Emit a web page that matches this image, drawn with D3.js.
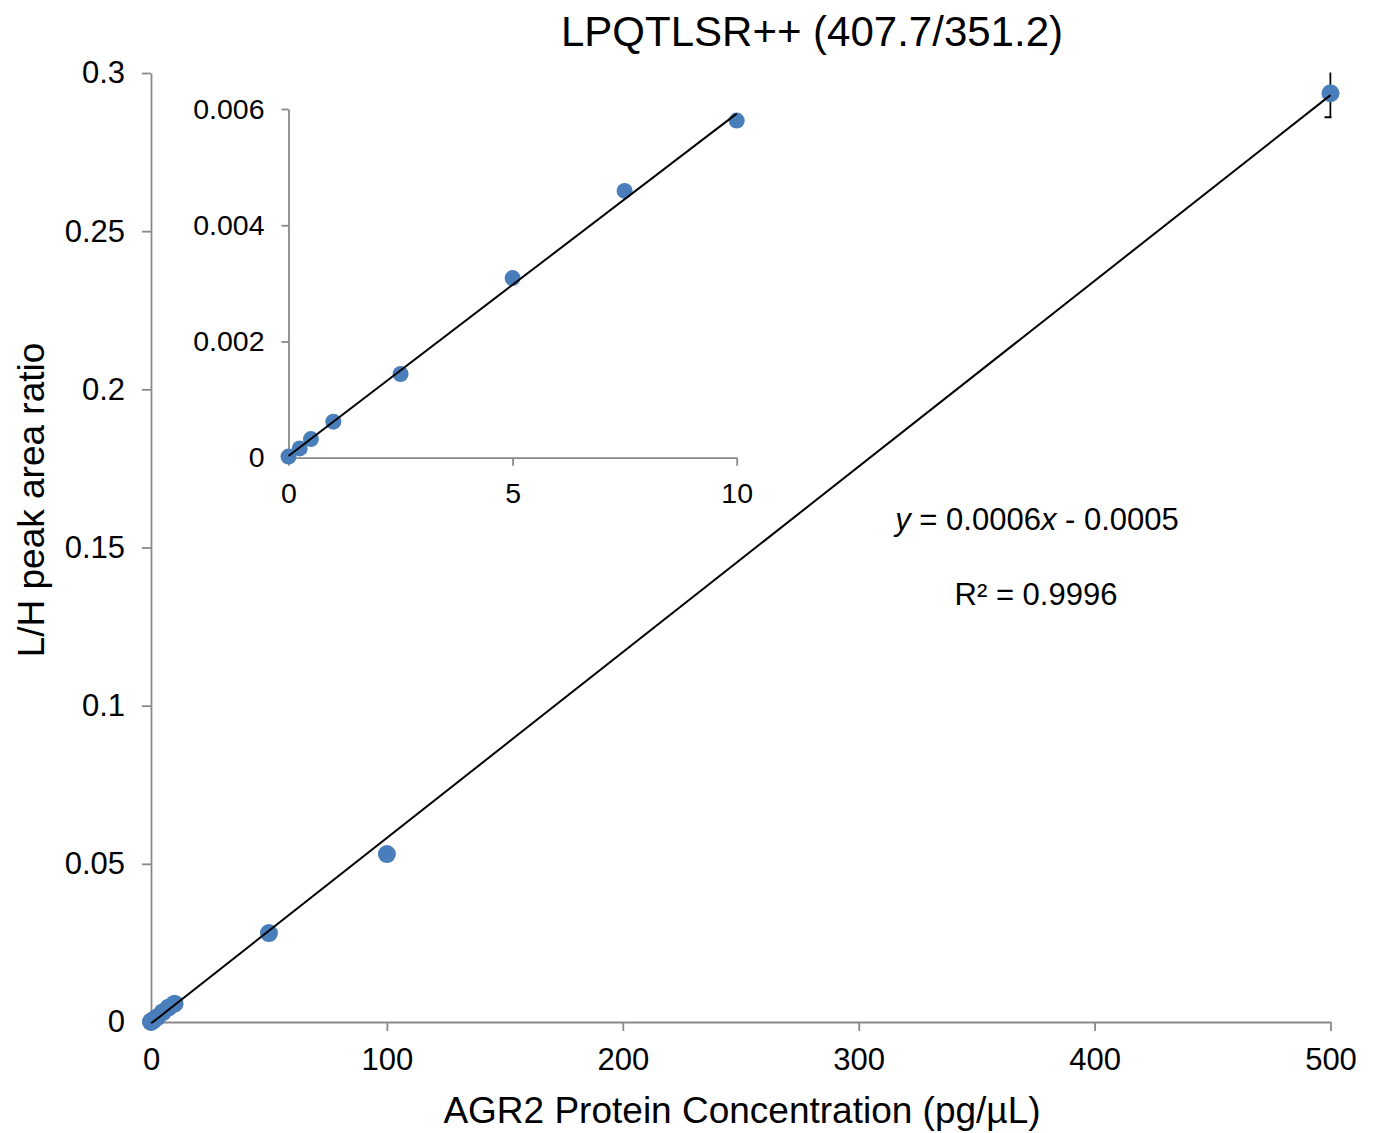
<!DOCTYPE html>
<html>
<head>
<meta charset="utf-8">
<script src="https://cdn.jsdelivr.net/npm/d3@7"></script>
<style>
  html, body { margin: 0; padding: 0; background: #fff; }
  svg { display: block; font-family: "Liberation Sans", Arial, Helvetica, sans-serif; }
</style>
</head>
<body>
<svg id="chart" width="1376" height="1133"></svg>
<script>
// ---- data ----
const concentrations = [0, 0.25, 0.5, 1, 2.5, 5, 7.5, 10, 50, 100, 500];
const ratios = [0.00002, 0.00016, 0.00032, 0.00062, 0.00144, 0.00309, 0.00459, 0.0058, 0.0281, 0.0531, 0.2936];
const errors = [0, 0, 0, 0, 0, 0, 0, 0, 0, 0, 0.0076];
const mainTrend = [0.000587, -0.0005];     // slope, intercept
const insetTrend = [0.000589, 0.00003];    // slope, intercept
const mainXTicks = [0, 100, 200, 300, 400, 500];
const mainYTicks = [0, 0.05, 0.1, 0.15, 0.2, 0.25, 0.3];
const mainYTickLabels = ["0", "0.05", "0.1", "0.15", "0.2", "0.25", "0.3"];
const insetXTicks = [0, 5, 10];
const insetYTicks = [0, 0.002, 0.004, 0.006];
const insetYTickLabels = ["0", "0.002", "0.004", "0.006"];
const titleText = "LPQTLSR++ (407.7/351.2)";
const xLabelText = "AGR2 Protein Concentration (pg/µL)";
const yLabelText = "L/H peak area ratio";

const points = concentrations.map((c, i) => ({x: c, y: ratios[i], e: errors[i]}));
const insetPoints = points.filter(p => p.x <= 10);

const svg = d3.select("#chart");
const axisColor = "#898989";
const dotColor = "#4a7ebb";

// ---- main scales ----
const x = d3.scaleLinear().domain([0, 500]).range([151, 1330.5]);
const y = d3.scaleLinear().domain([0, 0.3]).range([1022, 73]);

// clip for plot area
svg.append("defs").append("clipPath").attr("id", "mainClip")
  .append("rect").attr("x", x(0) - 1).attr("y", y(0.3) - 0.5)
  .attr("width", x(500) - x(0) + 2).attr("height", y(0) - y(0.3) + 2);

function styleAxis(g) {
  g.selectAll(".domain").attr("stroke", axisColor).attr("stroke-width", 1.8);
  g.selectAll(".tick line").attr("stroke", axisColor).attr("stroke-width", 1.8);
  g.selectAll(".tick text").attr("fill", "#000");
}

// main x axis
const gx = svg.append("g").attr("transform", `translate(0,${y(0)})`)
  .call(d3.axisBottom(x).tickValues(mainXTicks).tickFormat(d3.format("d"))
    .tickSize(9).tickSizeOuter(0).tickPadding(17));
gx.attr("font-size", 31).attr("font-family", null);
styleAxis(gx);

// main y axis
const gy = svg.append("g").attr("transform", `translate(${x(0)},0)`)
  .call(d3.axisLeft(y).tickValues(mainYTicks).tickFormat((d, i) => mainYTickLabels[i])
    .tickSize(9).tickSizeOuter(0).tickPadding(17));
gy.attr("font-size", 31).attr("font-family", null);
styleAxis(gy);

// error bars (clipped to plot area)
const plot = svg.append("g").attr("clip-path", "url(#mainClip)");
const capHalf = 6;
points.filter(p => p.e > 0).forEach(p => {
  plot.append("line")
    .attr("x1", x(p.x)).attr("x2", x(p.x))
    .attr("y1", y(p.y + p.e)).attr("y2", y(p.y - p.e))
    .attr("stroke", "#000").attr("stroke-width", 2);
  [p.y + p.e, p.y - p.e].forEach(v => {
    plot.append("line")
      .attr("x1", x(p.x) - capHalf).attr("x2", x(p.x) + capHalf)
      .attr("y1", y(v)).attr("y2", y(v))
      .attr("stroke", "#000").attr("stroke-width", 2);
  });
});

// main dots
svg.append("g").selectAll("circle").data(points).join("circle")
  .attr("cx", d => x(d.x)).attr("cy", d => y(d.y)).attr("r", 9)
  .attr("fill", dotColor);

// main trend line on top of dots
const trendX = d3.extent(concentrations);
svg.append("line")
  .attr("x1", x(trendX[0])).attr("y1", y(mainTrend[0] * trendX[0] + mainTrend[1]))
  .attr("x2", x(trendX[1])).attr("y2", y(mainTrend[0] * trendX[1] + mainTrend[1]))
  .attr("stroke", "#000").attr("stroke-width", 2)
  .attr("clip-path", "url(#mainClip)");

// ---- inset ----
const xi = d3.scaleLinear().domain([0, 10]).range([288.5, 736.7]);
const yi = d3.scaleLinear().domain([0, 0.006]).range([457.7, 109]);

const gxi = svg.append("g").attr("transform", `translate(0,${yi(0)})`)
  .call(d3.axisBottom(xi).tickValues(insetXTicks).tickFormat(d3.format("d"))
    .tickSize(8).tickSizeOuter(0).tickPadding(17));
gxi.attr("font-size", 28.5).attr("font-family", null);
styleAxis(gxi);

const gyi = svg.append("g").attr("transform", `translate(${xi(0)},0)`)
  .call(d3.axisLeft(yi).tickValues(insetYTicks).tickFormat((d, i) => insetYTickLabels[i])
    .tickSize(7).tickSizeOuter(0).tickPadding(17));
gyi.attr("font-size", 28.5).attr("font-family", null);
styleAxis(gyi);

svg.append("g").selectAll("circle").data(insetPoints).join("circle")
  .attr("cx", d => xi(d.x)).attr("cy", d => yi(d.y)).attr("r", 8)
  .attr("fill", dotColor);

const itX = d3.extent(insetPoints, d => d.x);
svg.append("line")
  .attr("x1", xi(itX[0])).attr("y1", yi(insetTrend[0] * itX[0] + insetTrend[1]))
  .attr("x2", xi(itX[1])).attr("y2", yi(insetTrend[0] * itX[1] + insetTrend[1]))
  .attr("stroke", "#000").attr("stroke-width", 2);

// ---- texts ----
svg.append("text").attr("x", 812).attr("y", 46).attr("text-anchor", "middle")
  .attr("font-size", 42).text(titleText);

svg.append("text").attr("x", 742).attr("y", 1123).attr("text-anchor", "middle")
  .attr("font-size", 37).text(xLabelText);

svg.append("text").attr("transform", "translate(44,500) rotate(-90)")
  .attr("text-anchor", "middle").attr("font-size", 37).text(yLabelText);

const eq = svg.append("text").attr("x", 1037).attr("y", 530).attr("text-anchor", "middle")
  .attr("font-size", 31);
eq.append("tspan").attr("font-style", "italic").text("y");
eq.append("tspan").text(" = 0.0006");
eq.append("tspan").attr("font-style", "italic").text("x");
eq.append("tspan").text(" - 0.0005");

svg.append("text").attr("x", 1036).attr("y", 605).attr("text-anchor", "middle")
  .attr("font-size", 31).text("R² = 0.9996");
</script>
</body>
</html>
